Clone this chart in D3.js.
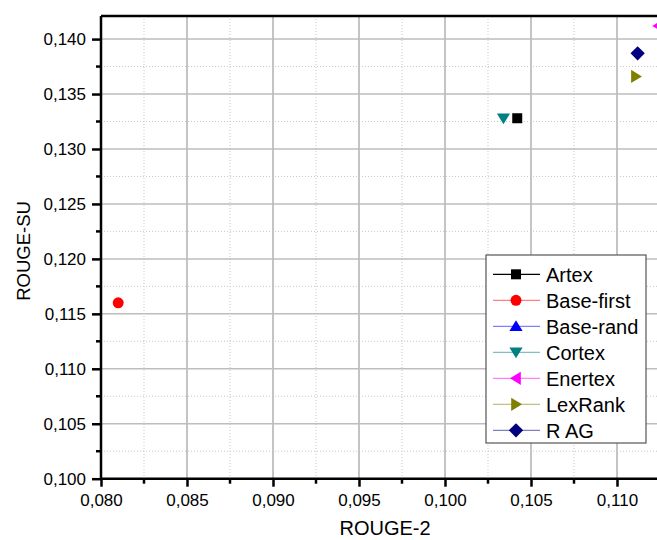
<!DOCTYPE html>
<html><head><meta charset="utf-8">
<script src="https://cdn.jsdelivr.net/npm/d3@7"></script>
<style>body{margin:0;background:#fff}svg{display:block}text{font-family:"Liberation Sans",Arial,sans-serif;fill:#000}</style>
</head><body><svg id="c" width="657" height="540"></svg>
<script>
const seriesNames = ["Artex","Base-first","Base-rand","Cortex","Enertex","LexRank","R AG"];
const rouge2 = [0.1042, 0.0810, null, 0.1034, 0.1124, 0.1111, 0.1112];
const rougeSU = [0.1328, 0.1160, null, 0.1328, 0.1412, 0.1366, 0.1387];
const markerColors = ["#000000","#ff0000","#0000ff","#008080","#ff00ff","#808000","#000080"];
const lineColors = ["#000000","#ff8080","#8080ff","#80c0c0","#ff80ff","#c0c080","#8080c0"];
const shapes = ["square","circle","up","down","left","right","diamond"];
const xTicks = [0.080,0.085,0.090,0.095,0.100,0.105,0.110];
const yTicks = [0.100,0.105,0.110,0.115,0.120,0.125,0.130,0.135,0.140];

const svg = d3.select("#c");
const L = 101, T = 16, B = 478.7;
const R = 657;
const x = d3.scaleLinear().domain([0.080, 0.115]).range([L, L + 7*86]);
const y = d3.scaleLinear().domain([0.100, 0.1421]).range([B, T]);
const fmt = v => d3.format(".3f")(v).replace(".", ",");

const minorX = d3.range(0.0825, 0.112, 0.005);
const minorY = d3.range(0.1025, 0.142, 0.005);

// grid
const g = svg.append("g");
g.selectAll(".mx").data(minorX).join("line")
  .attr("x1", d=>x(d)).attr("x2", d=>x(d)).attr("y1", T).attr("y2", B)
  .attr("stroke", "#c8c8c8").attr("stroke-width", 1).attr("stroke-dasharray", "1,2");
g.selectAll(".my").data(minorY).join("line")
  .attr("x1", L).attr("x2", R).attr("y1", d=>y(d)).attr("y2", d=>y(d))
  .attr("stroke", "#c8c8c8").attr("stroke-width", 1).attr("stroke-dasharray", "1,2");
g.selectAll(".gx").data(xTicks.slice(1)).join("line")
  .attr("x1", d=>x(d)).attr("x2", d=>x(d)).attr("y1", T).attr("y2", B)
  .attr("stroke", "#c4c4c4").attr("stroke-width", 2);
g.selectAll(".gy").data(yTicks.slice(1)).join("line")
  .attr("x1", L).attr("x2", R).attr("y1", d=>y(d)).attr("y2", d=>y(d))
  .attr("stroke", "#bdbdbd").attr("stroke-width", 1.5);

// axes
const xAxis = d3.axisBottom(x).tickValues(xTicks).tickFormat(fmt).tickSize(8).tickPadding(7);
const yAxis = d3.axisLeft(y).tickValues(yTicks).tickFormat(fmt).tickSize(9).tickPadding(6);
const gx = svg.append("g").attr("transform", `translate(0,${B})`).call(xAxis);
const gy = svg.append("g").attr("transform", `translate(${L},0)`).call(yAxis);
[gx, gy].forEach(a => {
  a.select(".domain").remove();
  a.selectAll(".tick line").attr("stroke", "#000").attr("stroke-width", 2.5);
  a.selectAll("text").attr("font-size", 17).attr("font-family", "Liberation Sans, Arial, sans-serif");
});
gx.selectAll("text").attr("dy", "0.71em");
// minor ticks
svg.append("g").selectAll("line").data(minorX).join("line")
  .attr("x1", d=>x(d)).attr("x2", d=>x(d)).attr("y1", B).attr("y2", B+5)
  .attr("stroke", "#000").attr("stroke-width", 2.5);
svg.append("g").selectAll("line").data(minorY).join("line")
  .attr("x1", L-5).attr("x2", L).attr("y1", d=>y(d)).attr("y2", d=>y(d))
  .attr("stroke", "#000").attr("stroke-width", 2.5);
// frame
svg.append("line").attr("x1", L).attr("x2", R).attr("y1", B).attr("y2", B).attr("stroke", "#000").attr("stroke-width", 2.5);
svg.append("line").attr("x1", L).attr("x2", L).attr("y1", T).attr("y2", B+1).attr("stroke", "#000").attr("stroke-width", 2.5);
svg.append("line").attr("x1", L).attr("x2", R).attr("y1", T).attr("y2", T).attr("stroke", "#000").attr("stroke-width", 2.5);

// titles
svg.append("text").attr("x", 385).attr("y", 535).attr("text-anchor", "middle")
  .attr("font-size", 20).text("ROUGE-2");
svg.append("text").attr("transform", "translate(30,251) rotate(-90)").attr("text-anchor", "middle")
  .attr("font-size", 18.5).text("ROUGE-SU");

function markerPath(shape, r) {
  switch (shape) {
    case "square": return `M${-r},${-r}H${r}V${r}H${-r}Z`;
    case "circle": return `M${r},0A${r},${r} 0 1,1 ${-r},0A${r},${r} 0 1,1 ${r},0Z`;
    case "up": return `M0,${-r}L${r*1.1},${r*0.8}L${-r*1.1},${r*0.8}Z`;
    case "down": return `M0,${r}L${r*1.1},${-r*0.8}L${-r*1.1},${-r*0.8}Z`;
    case "left": return `M${-r},0L${r*0.8},${-r*1.1}L${r*0.8},${r*1.1}Z`;
    case "right": return `M${r},0L${-r*0.8},${-r*1.1}L${-r*0.8},${r*1.1}Z`;
    case "diamond": return `M0,${-r*1.3}L${r*1.3},0L0,${r*1.3}L${-r*1.3},0Z`;
  }
}
const markerR = [5, 5.5, 6, 6, 6, 6, 5.5];

svg.append("clipPath").attr("id", "pc").append("rect")
  .attr("x", L).attr("y", T).attr("width", R - L).attr("height", B - T);
const pts = seriesNames.map((n, i) => ({i, x: rouge2[i], y: rougeSU[i]})).filter(d => d.x != null);
svg.append("g").attr("clip-path", "url(#pc)").selectAll("path").data(pts).join("path")
  .attr("transform", d => `translate(${x(d.x)},${y(d.y)})`)
  .attr("d", d => markerPath(shapes[d.i], markerR[d.i]))
  .attr("fill", d => markerColors[d.i]);

// legend
const lg = svg.append("g");
lg.append("rect").attr("x", 486).attr("y", 255).attr("width", 160).attr("height", 188)
  .attr("fill", "#fff").attr("stroke", "#555").attr("stroke-width", 1.2);
const rowY = i => 274.3 + i * 26;
const rows = lg.selectAll(".row").data(seriesNames).join("g").attr("transform", (d, i) => `translate(0,${rowY(i)})`);
rows.append("line").attr("x1", 493).attr("x2", 540).attr("y1", 0).attr("y2", 0)
  .attr("stroke", (d, i) => lineColors[i]).attr("stroke-width", 1.3);
rows.append("path").attr("transform", "translate(516,0)")
  .attr("d", (d, i) => markerPath(shapes[i], markerR[i]))
  .attr("fill", (d, i) => markerColors[i]);
rows.append("text").attr("x", 546).attr("y", 7.3).attr("font-size", 20).text(d => d);
</script></body></html>
